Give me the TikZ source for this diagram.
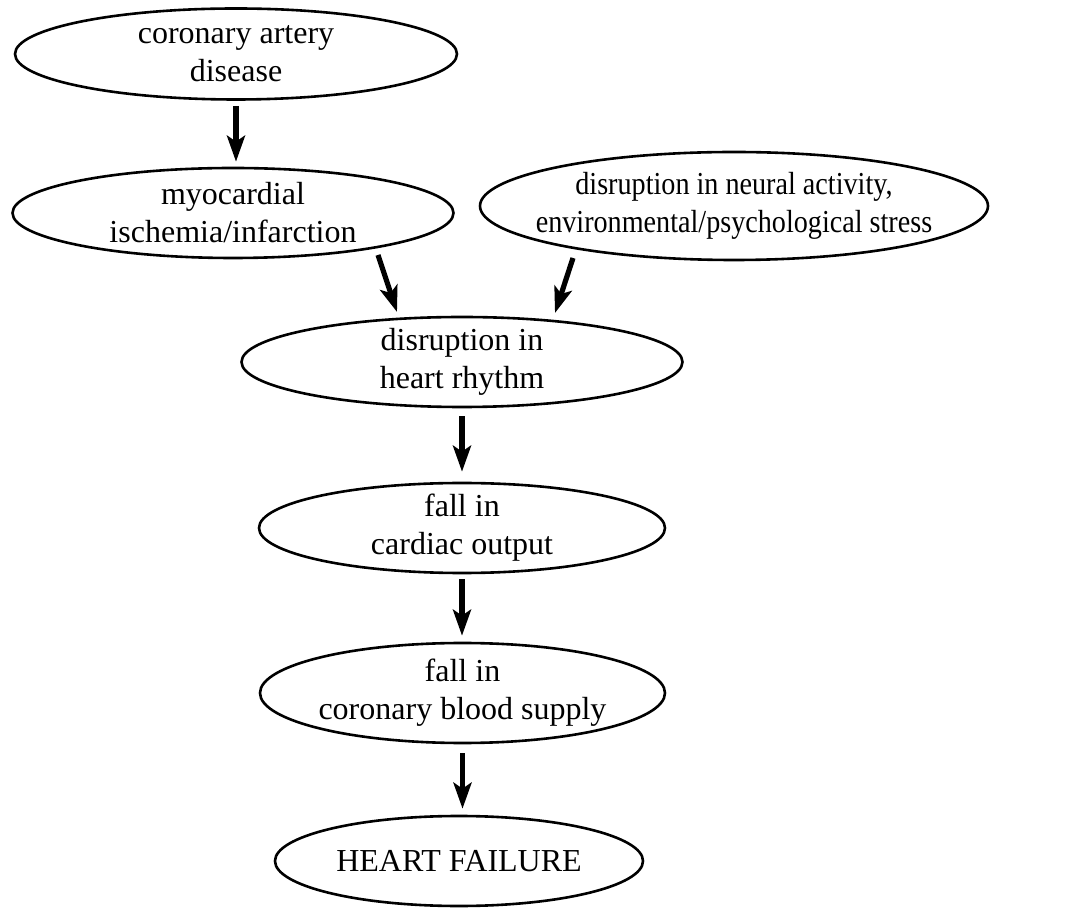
\documentclass[tikz,border=0pt]{standalone}
\usepackage{fontspec}
\setmainfont{Liberation Serif}
\newfontfamily\narrowserif[FakeStretch=0.88]{Liberation Serif}
\usetikzlibrary{shapes.geometric,arrows.meta}

\begin{document}
\begin{tikzpicture}[x=0.5pt, y=-0.5pt, main/.style={draw, ellipse, line width=1.3pt, inner sep=-20pt, align=center, font=\fontsize{16pt}{19pt}\selectfont}, n/.style={-{Stealth[length=13pt, width=9pt, inset=3pt]}, line width=2.6pt}]
            \useasboundingbox (0,0) rectangle (1071,908);
            % nodes
            \node[main, minimum width=221pt, minimum height=45.5pt] (cad) at (236,54) {coronary artery\\disease};
            \node[main, minimum width=220.5pt, minimum height=45pt] (mi) at (233,213) {myocardial\\ischemia/infarction};
            \node[main, minimum width=254pt, minimum height=54pt, font=\narrowserif\fontsize{16pt}{19pt}\selectfont] (ns) at (734,206) {disruption in neural activity,\\environmental/psychological stress};
            \node[main, minimum width=220.5pt, minimum height=45pt] (dhr) at (462,362) {disruption in\\heart rhythm};
            \node[main, minimum width=203pt, minimum height=45pt] (co) at (462,528) {fall in\\cardiac output};
            \node[main, minimum width=202.5pt, minimum height=50pt] (cbs) at (462.5,693) {fall in\\coronary blood supply};
            \node[main, minimum width=184pt, minimum height=45pt] (hf) at (459,861) {HEART FAILURE};
            % edges
            \draw[n, shorten <=2.5pt, shorten >=2.5pt] (cad.south) -- (cad.south |- mi.north);
            \draw[n] ([shift={(145,42)}]mi.center) -- ([shift={(-65,-50)}]dhr.center);
            \draw[n] ([shift={(-161,52)}]ns.center) -- ([shift={(93,-49)}]dhr.center);
            \draw[n, shorten <=4pt, shorten >=5pt] (dhr.south) -- (dhr.south |- co.north);
            \draw[n, shorten <=2.5pt, shorten >=3pt] (co.south) -- (co.south |- cbs.north);
            \draw[n, shorten <=4.5pt, shorten >=3pt] (cbs.south) -- (cbs.south |- hf.north);
        \end{tikzpicture}
\end{document}
